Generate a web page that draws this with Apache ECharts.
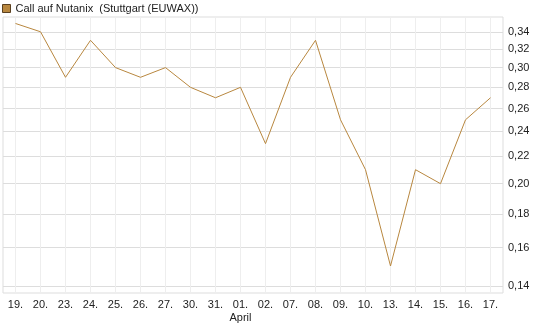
<!DOCTYPE html>
<html><head><meta charset="utf-8">
<script src="https://cdn.jsdelivr.net/npm/echarts@6/dist/echarts.min.js"></script>
<style>html,body{margin:0;padding:0;background:#fff}#c{width:545px;height:327px}</style>
</head><body><div id="c"></div>
<script>
const categories = ['19.','20.','23.','24.','25.','26.','27.','30.','31.','01.','02.','07.','08.','09.','10.','13.','14.','15.','16.','17.'];
const values = [0.35,0.34,0.29,0.33,0.30,0.29,0.30,0.28,0.27,0.28,0.23,0.29,0.33,0.25,0.21,0.15,0.21,0.20,0.25,0.27];
const yTicks = [0.14,0.16,0.18,0.20,0.22,0.24,0.26,0.28,0.30,0.32,0.34];
const seriesName = 'Call auf Nutanix  (Stuttgart (EUWAX))';
const yMin = 0.1365, yMax = 0.358;

const lg = v => Math.log10(v);
const chart = echarts.init(document.getElementById('c'), null, {renderer:'canvas'});
chart.setOption({
  animation:false,
  textStyle:{fontFamily:'Liberation Sans, Arial, sans-serif'},
  legend:{left:2,top:3,padding:0,itemWidth:8,itemHeight:8,itemGap:5,icon:'rect',
    textStyle:{fontSize:11,color:'#222',fontFamily:'Liberation Sans, Arial, sans-serif'},
    itemStyle:{color:'#B8873F',borderColor:'#5a4020',borderWidth:1},
    data:[seriesName]},
  grid:{left:3,top:17,right:42,bottom:34,show:true,borderColor:'#ddd',borderWidth:1,containLabel:false},
  xAxis:{type:'category',data:categories,boundaryGap:true,
    axisLine:{show:false},axisTick:{show:false},
    splitLine:{show:true,alignWithLabel:true,lineStyle:{color:'#eeeeee'}},
    axisLabel:{interval:0,fontSize:11,color:'#222',margin:5,lineHeight:13,
      formatter:(v)=> v==='01.' ? '01.\nApril' : v}},
  yAxis:{type:'value',position:'right',min:lg(yMin),max:lg(yMax),
    axisLine:{show:false},
    axisTick:{show:false,customValues:yTicks.map(lg)},
    splitLine:{show:true,lineStyle:{color:'#dddddd'}},
    axisLabel:{customValues:yTicks.map(lg),fontSize:11,color:'#222',margin:5,
      formatter:(v)=>Math.pow(10,v).toFixed(2).replace('.',',')}},
  series:[{name:seriesName,type:'line',data:values.map(lg),symbol:'none',
    lineStyle:{color:'#B8873F',width:1},itemStyle:{color:'#B8873F'}}]
});
</script></body></html>
